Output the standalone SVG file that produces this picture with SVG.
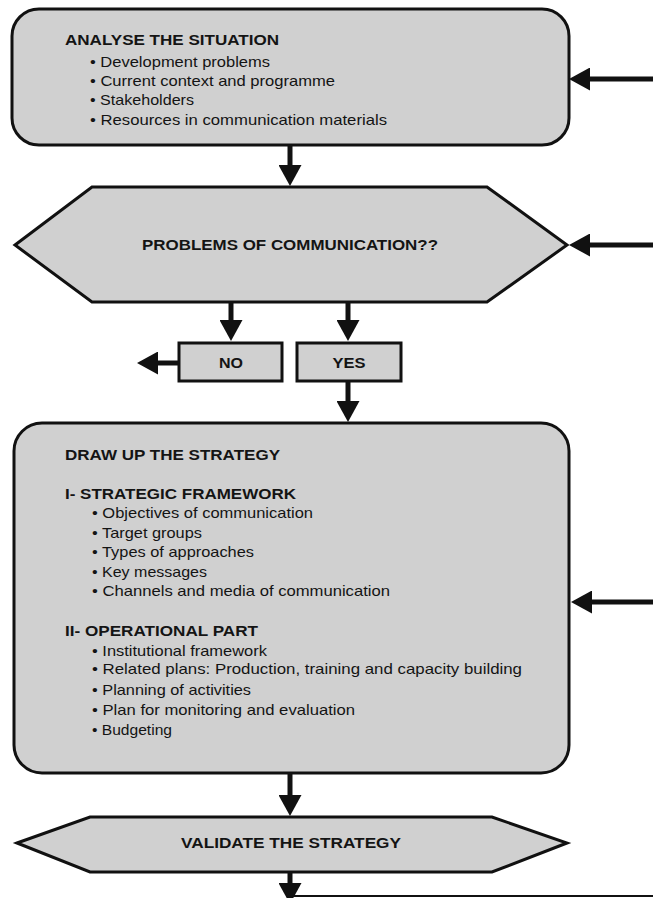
<svg xmlns="http://www.w3.org/2000/svg" width="653" height="898" viewBox="0 0 653 898">
  <style>
    .shape { fill: #d0d0d0; stroke: #111; stroke-width: 3; }
    .t { font-family: "Liberation Sans", Arial, sans-serif; font-size: 14.5px; fill: #141414; }
    .b { font-weight: bold; }
    .c { text-anchor: middle; }
    .arr { stroke: #111; stroke-width: 5; fill: none; }
    .thin { stroke: #111; stroke-width: 2; fill: none; }
  </style>
  <defs>
    <marker id="ah" markerUnits="userSpaceOnUse" markerWidth="21" markerHeight="23" refX="11" refY="11.5" orient="auto" viewBox="0 0 21 23">
      <path d="M0,0 L21,11.5 L0,23 Z" fill="#111"/>
    </marker>
  </defs>
  <rect width="653" height="898" fill="#ffffff"/>

  <g id="analyse">
    <rect class="shape" x="12" y="9" width="557" height="136" rx="27" ry="27"/>
    <text class="t b" x="65" y="45" textLength="214" lengthAdjust="spacingAndGlyphs">ANALYSE THE SITUATION</text>
    <text class="t" x="90" y="66.5" textLength="180" lengthAdjust="spacingAndGlyphs">• Development problems</text>
    <text class="t" x="90" y="86" textLength="245" lengthAdjust="spacingAndGlyphs">• Current context and programme</text>
    <text class="t" x="90" y="105" textLength="104" lengthAdjust="spacingAndGlyphs">• Stakeholders</text>
    <text class="t" x="90" y="124.5" textLength="297" lengthAdjust="spacingAndGlyphs">• Resources in communication materials</text>
  </g>

  <g id="problems">
    <polygon class="shape" points="15,245 92,187 487,187 567,245 487,302 92,302"/>
    <text class="t b c" x="290" y="250" textLength="296" lengthAdjust="spacingAndGlyphs">PROBLEMS OF COMMUNICATION??</text>
  </g>

  <g id="no">
    <rect class="shape" x="179" y="343" width="103" height="38"/>
    <text class="t b c" x="231" y="368" textLength="24" lengthAdjust="spacingAndGlyphs">NO</text>
  </g>

  <g id="yes">
    <rect class="shape" x="297" y="343" width="104" height="38"/>
    <text class="t b c" x="349" y="368" textLength="33" lengthAdjust="spacingAndGlyphs">YES</text>
  </g>

  <g id="strategy">
    <rect class="shape" x="14" y="423" width="555" height="350" rx="28" ry="28"/>
    <text class="t b" x="65" y="460" textLength="215" lengthAdjust="spacingAndGlyphs">DRAW UP THE STRATEGY</text>
    <text class="t b" x="65" y="499" textLength="231" lengthAdjust="spacingAndGlyphs">I- STRATEGIC FRAMEWORK</text>
    <text class="t" x="92" y="518" textLength="221" lengthAdjust="spacingAndGlyphs">• Objectives of communication</text>
    <text class="t" x="92" y="537.5" textLength="110" lengthAdjust="spacingAndGlyphs">• Target groups</text>
    <text class="t" x="92" y="557" textLength="162" lengthAdjust="spacingAndGlyphs">• Types of approaches</text>
    <text class="t" x="92" y="576.5" textLength="115" lengthAdjust="spacingAndGlyphs">• Key messages</text>
    <text class="t" x="92" y="596" textLength="298" lengthAdjust="spacingAndGlyphs">• Channels and media of communication</text>
    <text class="t b" x="65" y="636" textLength="193" lengthAdjust="spacingAndGlyphs">II- OPERATIONAL PART</text>
    <text class="t" x="92" y="655.5" textLength="175" lengthAdjust="spacingAndGlyphs">• Institutional framework</text>
    <text class="t" x="92" y="674" textLength="430" lengthAdjust="spacingAndGlyphs">• Related plans: Production, training and capacity building</text>
    <text class="t" x="92" y="695" textLength="159" lengthAdjust="spacingAndGlyphs">• Planning of activities</text>
    <text class="t" x="92" y="715" textLength="263" lengthAdjust="spacingAndGlyphs">• Plan for monitoring and evaluation</text>
    <text class="t" x="92" y="735" textLength="80" lengthAdjust="spacingAndGlyphs">• Budgeting</text>
  </g>

  <g id="validate">
    <polygon class="shape" points="17,843 90,817 492,817 567,843 492,872 90,872"/>
    <text class="t b c" x="291" y="848" textLength="220" lengthAdjust="spacingAndGlyphs">VALIDATE THE STRATEGY</text>
  </g>

  <g id="connectors">
    <line class="arr" x1="653" y1="79" x2="579" y2="79" marker-end="url(#ah)"/>
    <line class="arr" x1="653" y1="245" x2="579" y2="245" marker-end="url(#ah)"/>
    <line class="arr" x1="653" y1="602" x2="581" y2="602" marker-end="url(#ah)"/>
    <line class="arr" x1="290" y1="146" x2="290" y2="176" marker-end="url(#ah)"/>
    <line class="arr" x1="231" y1="303" x2="231" y2="331" marker-end="url(#ah)"/>
    <line class="arr" x1="348" y1="303" x2="348" y2="331" marker-end="url(#ah)"/>
    <line class="arr" x1="178" y1="363" x2="147" y2="363" marker-end="url(#ah)"/>
    <line class="arr" x1="348" y1="382" x2="348" y2="412" marker-end="url(#ah)"/>
    <line class="arr" x1="290" y1="774" x2="290" y2="806" marker-end="url(#ah)"/>
    <line class="arr" x1="290" y1="873" x2="290" y2="894" marker-end="url(#ah)"/>
    <line class="thin" x1="290" y1="896" x2="653" y2="896"/>
  </g>
</svg>
